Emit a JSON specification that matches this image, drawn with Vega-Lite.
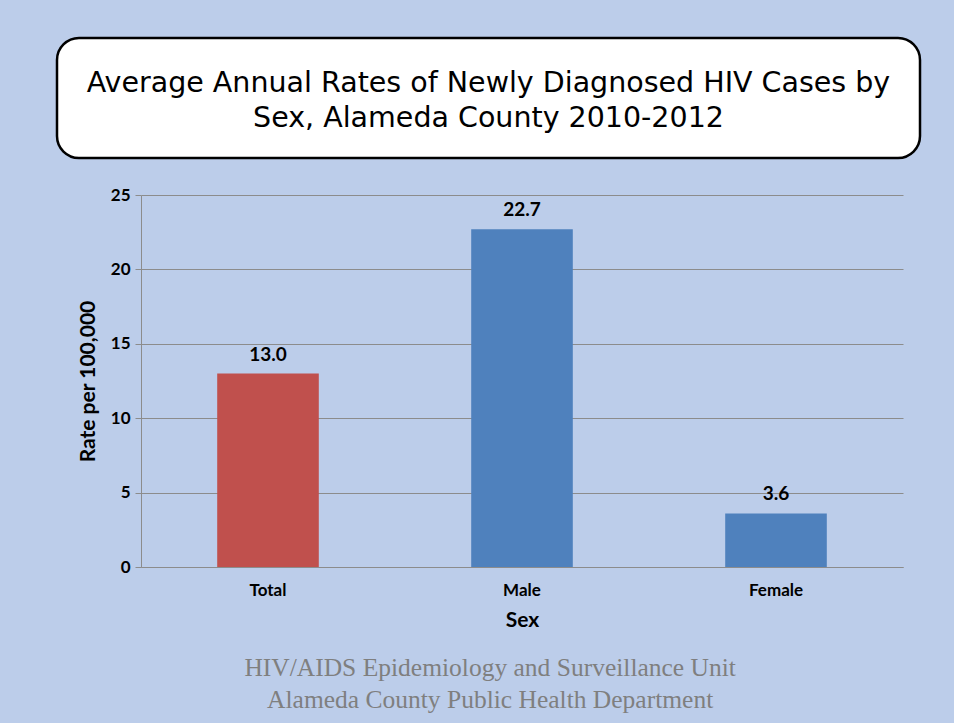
{
  "$schema": "https://vega.github.io/schema/vega-lite/v6.json",
  "background": "#bccdea",
  "padding": {"left": 55, "top": 36, "right": 33, "bottom": 9},
  "autosize": {"type": "pad"},
  "config": {"view": {"stroke": null}, "font": "Lato"},
  "spacing": 26,
  "vconcat": [
    {
      "width": 863,
      "height": 120,
      "view": {"fill": "white", "stroke": "black", "strokeWidth": 2.5, "cornerRadius": 22},
      "data": {"values": [{"title": ["Average Annual Rates of Newly Diagnosed HIV Cases by", "Sex, Alameda County 2010-2012"]}]},
      "mark": {"type": "text", "font": "DejaVu Sans", "fontSize": 28.5, "lineHeight": 35, "align": "center", "baseline": "middle", "dy": -15, "color": "black"},
      "encoding": {"text": {"field": "title"}}
    },
    {
      "spacing": 0,
      "hconcat": [
        {
          "width": 20,
          "height": 10,
          "data": {"values": []},
          "mark": {"type": "point", "opacity": 0}
        },
        {
          "width": 762,
          "height": 372,
          "data": {"values": [
            {"sex": "Total", "rate": 13.0},
            {"sex": "Male", "rate": 22.7},
            {"sex": "Female", "rate": 3.6}
          ]},
          "title": {
            "text": ["HIV/AIDS Epidemiology and Surveillance Unit", "Alameda County Public Health Department"],
            "orient": "bottom",
            "frame": "bounds",
            "anchor": "middle",
            "font": "Liberation Serif",
            "fontSize": 25.5,
            "fontWeight": "normal",
            "color": "#7f7f7f",
            "lineHeight": 32,
            "offset": 26
          },
          "encoding": {
            "x": {
              "field": "sex",
              "type": "nominal",
              "sort": null,
              "scale": {"paddingInner": 0.6, "paddingOuter": 0.3},
              "axis": {
                "title": "Sex",
                "labelAngle": 0,
                "ticks": false,
                "domainColor": "#8c8c8c",
                "labelFontSize": 17,
                "labelFontWeight": "bold",
                "labelColor": "black",
                "labelPadding": 15,
                "titleFontSize": 21,
                "titleFontWeight": "bold",
                "titleColor": "black",
                "titlePadding": 11
              }
            },
            "y": {
              "field": "rate",
              "type": "quantitative",
              "scale": {"domain": [0, 25]},
              "axis": {
                "title": "Rate per 100,000",
                "values": [0, 5, 10, 15, 20, 25],
                "grid": true,
                "gridColor": "#8c8c8c",
                "gridOpacity": 1,
                "domainColor": "#8c8c8c",
                "tickColor": "#8c8c8c",
                "tickSize": 6,
                "labelFontSize": 17,
                "labelFontWeight": "bold",
                "labelColor": "black",
                "labelPadding": 5,
                "titleFontSize": 21,
                "titleFontWeight": "bold",
                "titleColor": "black",
                "titlePadding": 12
              }
            }
          },
          "layer": [
            {
              "mark": {"type": "bar"},
              "encoding": {
                "color": {
                  "field": "sex",
                  "type": "nominal",
                  "scale": {"domain": ["Total", "Male", "Female"], "range": ["#c0504d", "#4f81bd", "#4f81bd"]},
                  "legend": null
                }
              }
            },
            {
              "mark": {"type": "text", "baseline": "bottom", "dy": -9, "fontSize": 19, "fontWeight": "bold", "color": "black"},
              "encoding": {"text": {"field": "rate", "type": "quantitative", "format": ".1f"}}
            }
          ]
        }
      ]
    }
  ]
}
